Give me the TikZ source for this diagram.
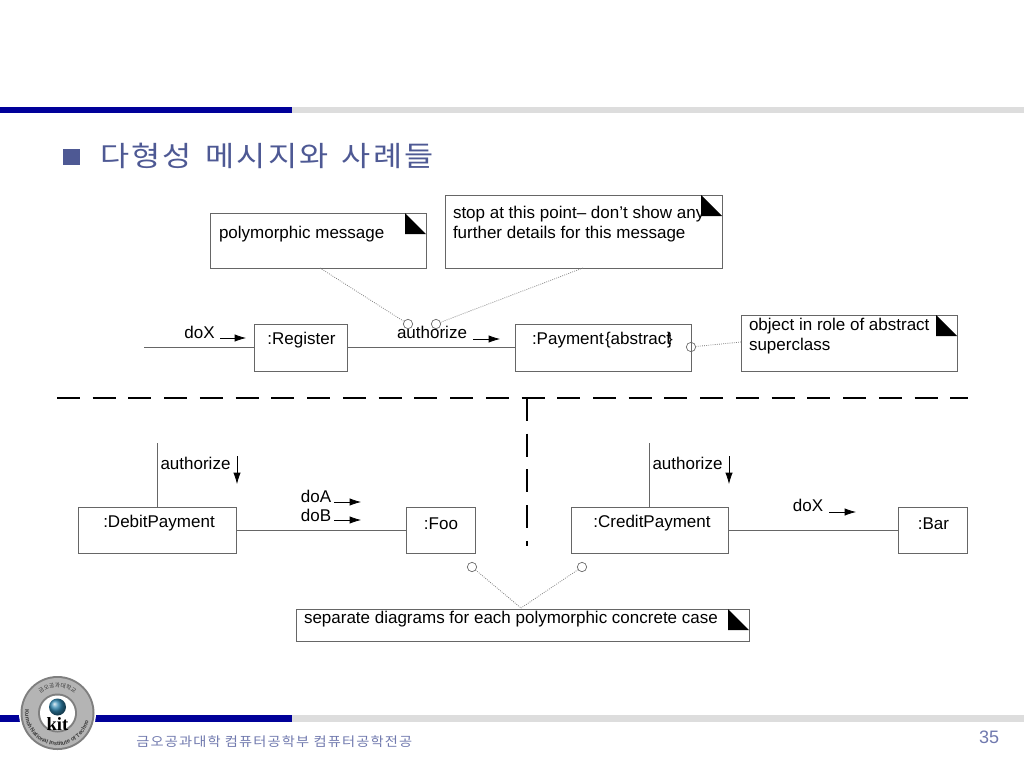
\documentclass[tikz,border=0pt]{standalone}
\usepackage{fontspec}
\setmainfont{Liberation Sans}
\newfontfamily\krfont{Noto Sans CJK KR}[FakeStretch=1.13,LetterSpace=8]
\newfontfamily\krfoot{Noto Sans CJK KR}[FakeStretch=1.1,LetterSpace=9]
\newfontfamily\krplain{Noto Sans CJK KR}
\newfontfamily\kitfont{Liberation Serif}
\usetikzlibrary{arrows.meta,decorations.text}
\definecolor{barblue}{HTML}{000099}
\definecolor{bargray}{HTML}{DDDDDD}
\definecolor{titleblue}{HTML}{4E5994}
\definecolor{footblue}{HTML}{7079AE}
\definecolor{linegray}{HTML}{666666}
\definecolor{ringdark}{HTML}{7F7F7F}
\definecolor{ringband}{HTML}{B4B4B4}
\definecolor{ringtext}{HTML}{3A3A3A}
\definecolor{dropblue}{HTML}{2F86B0}
\tikzset{
  x=0.75pt,y=-0.75pt,
  umlbox/.style={draw=linegray,line width=0.75pt,fill=white,anchor=north west,inner sep=0pt,outer sep=0pt},
  txt/.style={inner sep=0pt,outer sep=0pt,font=\fontsize{12.75pt}{15pt}\selectfont,text=black,align=left},
  link/.style={draw=linegray,line width=0.6pt},
  note link/.style={draw=gray,line width=0.6pt,densely dotted},
  pin/.style={circle,draw=linegray,line width=0.5pt,fill=none,minimum size=7pt,inner sep=0pt,outer sep=0pt},
  msg/.style={draw=black,line width=0.5pt,-{Latex[length=8.5pt,width=5.5pt]}},
  cut/.style={draw=black,line width=1.5pt,dash pattern=on 17.25pt off 9.55pt},
}
% note: name, x, y, w, h
\newcommand{\umlnote}[5]{%
  \node[umlbox,minimum width=#4*0.75pt,minimum height=#5*0.75pt] (#1) at (#2,#3) {};
  \fill[black] ([xshift=-15.75pt]#1.north east) -- ([xshift=-15.75pt,yshift=-15.75pt]#1.north east) -- ([yshift=-15.75pt]#1.north east) -- cycle;
}
\newcommand{\umlobj}[5]{%
  \node[umlbox,minimum width=#4*0.75pt,minimum height=#5*0.75pt] (#1) at (#2,#3) {};
}
\begin{document}
\begin{tikzpicture}
\useasboundingbox (0,0) rectangle (1024,768);
\fill[white] (0,0) rectangle (1024,768);
% bars
\fill[bargray] (292,107) rectangle (1024,112.5);
\fill[barblue] (0,107) rectangle (292,112.5);
\fill[bargray] (292,715) rectangle (1024,721.5);
\fill[barblue] (0,715) rectangle (292,721.5);
% title
\fill[titleblue] (63,149) rectangle (80,165);
\node[anchor=west,inner sep=0pt,text=titleblue,font=\krfont\fontsize{21pt}{24pt}\selectfont] (title) at (100,156) {다형성\hspace{3pt} 메시지와\hspace{3pt} 사례들};
% footer
\node[anchor=west,inner sep=0pt,text=footblue,font=\krfoot\fontsize{9.7pt}{12pt}\selectfont] (footer) at (136,742) {금오공과대학 컴퓨터공학부 컴퓨터공학전공};
\node[anchor=center,inner sep=0pt,text=footblue,font=\fontsize{13.5pt}{16pt}\selectfont] (pageno) at (989,737) {35};
% logo
\fill[white] (57.5,713) circle[radius=38.5];
\fill[ringdark] (57.5,713) circle[radius=37];
\fill[ringband] (57.5,713) circle[radius=35];
\path[postaction={decorate,decoration={text along path,text align=center,
  text={|\color{ringtext}\fontsize{4.3pt}{5pt}\selectfont\bfseries|Kumoh National Institute of Technology}}}]
  (26.3,721.4) arc[start angle=165,end angle=15,radius=32.3];
\path[postaction={decorate,decoration={text along path,text align=center,
  text={|\color{ringtext}\krplain\fontsize{4.3pt}{5pt}\selectfont|금오공과대학교}}}]
  (36.5,698.3) arc[start angle=215,end angle=325,radius=25.6];
\fill[ringdark] (57.5,713) circle[radius=19.5];
\fill[white] (57.5,713) circle[radius=17.5];
\shade[ball color=dropblue] (57.5,707) circle[radius=8.5];
\node[inner sep=0pt,font=\kitfont\bfseries\fontsize{14pt}{15pt}\selectfont] (kit) at (57.5,724) {kit};
% notes
\umlnote{noteA}{210}{213}{216}{55}
\umlnote{noteB}{445}{195}{277}{73}
\umlnote{noteC}{741}{315}{216}{56}
\umlnote{noteD}{296}{609}{453}{32}
% objects
\umlobj{reg}{254}{324}{93}{47}
\umlobj{pay}{515}{324}{176}{47}
\umlobj{deb}{78}{507}{158}{46.5}
\umlobj{foo}{406}{507}{69}{46.5}
\umlobj{cre}{571}{507}{157}{46.5}
\umlobj{bar}{898}{507}{69}{46.5}
% free ends
\coordinate (inX) at (144,347);
\coordinate (debTop) at (157,443);
\coordinate (creTop) at (649,443);
\coordinate (noteAfoot) at (320,268);
\coordinate (noteBfoot) at (583,268);
\coordinate (noteCfoot) at (741,342);
\coordinate (noteDtop) at (521,608);
% pins
\node[pin] (pinA) at (408,324) {};
\node[pin] (pinB) at (436,324) {};
\node[pin] (pinC) at (691,347) {};
\node[pin] (pinD) at (472,567) {};
\node[pin] (pinE) at (582,567) {};
% links
\draw[link] (inX) -- (reg.west |- inX);
\draw[link] (reg.east) -- (pay.west);
\draw[link] (deb.east) -- (foo.west);
\draw[link] (cre.east) -- (bar.west);
\draw[link] (debTop) -- (debTop |- deb.north);
\draw[link] (creTop) -- (creTop |- cre.north);
% note links
\draw[note link] (noteAfoot) -- (pinA);
\draw[note link] (noteBfoot) -- (pinB);
\draw[note link] (pinC) -- (noteCfoot);
\draw[note link] (pinD) -- (noteDtop);
\draw[note link] (pinE) -- (noteDtop);
% cut lines
\coordinate (cutL) at (57,398);
\coordinate (cutR) at (968,398);
\coordinate (cutT) at (527,398);
\coordinate (cutB) at (527,546);
\draw[cut] (cutL) -- (cutR);
\draw[cut] (cutT) -- (cutB);
% message arrows
\coordinate (m1a) at (220,338); \coordinate (m1b) at (246,338);
\coordinate (m2a) at (473,339); \coordinate (m2b) at (500,339);
\coordinate (m3a) at (237,456); \coordinate (m3b) at (237,484);
\coordinate (m4a) at (729,456); \coordinate (m4b) at (729,484);
\coordinate (m5a) at (334,502); \coordinate (m5b) at (361,502);
\coordinate (m6a) at (334,520); \coordinate (m6b) at (361,520);
\coordinate (m7a) at (829,512); \coordinate (m7b) at (856,512);
\draw[msg] (m1a) -- (m1b);
\draw[msg] (m2a) -- (m2b);
\draw[msg] (m3a) -- (m3b);
\draw[msg] (m4a) -- (m4b);
\draw[msg] (m5a) -- (m5b);
\draw[msg] (m6a) -- (m6b);
\draw[msg] (m7a) -- (m7b);
% texts
\node[txt,anchor=west] (tA) at (219,234) {polymorphic message};
\node[txt,anchor=north west] (tB) at (453,206) {stop at this point-- don’t show any\\further details for this message};
\node[txt,anchor=north west] (tC) at (749,318) {object in role of abstract\\superclass};
\node[txt,anchor=west] (tD) at (304,619) {separate diagrams for each polymorphic concrete case};
\node[txt] (lReg) at (301.5,340.5) {:Register};
\node[txt,anchor=west] (lPay) at (532,340.5) {:Payment};
\node[txt,anchor=west] (lAbs) at (605,340.5) {\{abstract\hspace{-3pt}\}};
\node[txt] (lDeb) at (159,523.5) {:DebitPayment};
\node[txt] (lFoo) at (441,523.5) {:Foo};
\node[txt] (lCre) at (652,523.5) {:CreditPayment};
\node[txt] (lBar) at (933.5,523.5) {:Bar};
\node[txt] (mX1) at (199.5,332) {doX};
\node[txt] (mAuth) at (432,332) {authorize};
\node[txt] (mAuthD) at (195.5,463) {authorize};
\node[txt] (mAuthC) at (687.5,463) {authorize};
\node[txt] (mA) at (316,496) {doA};
\node[txt] (mB) at (316,515) {doB};
\node[txt] (mX2) at (808,505) {doX};
\end{tikzpicture}
\end{document}
